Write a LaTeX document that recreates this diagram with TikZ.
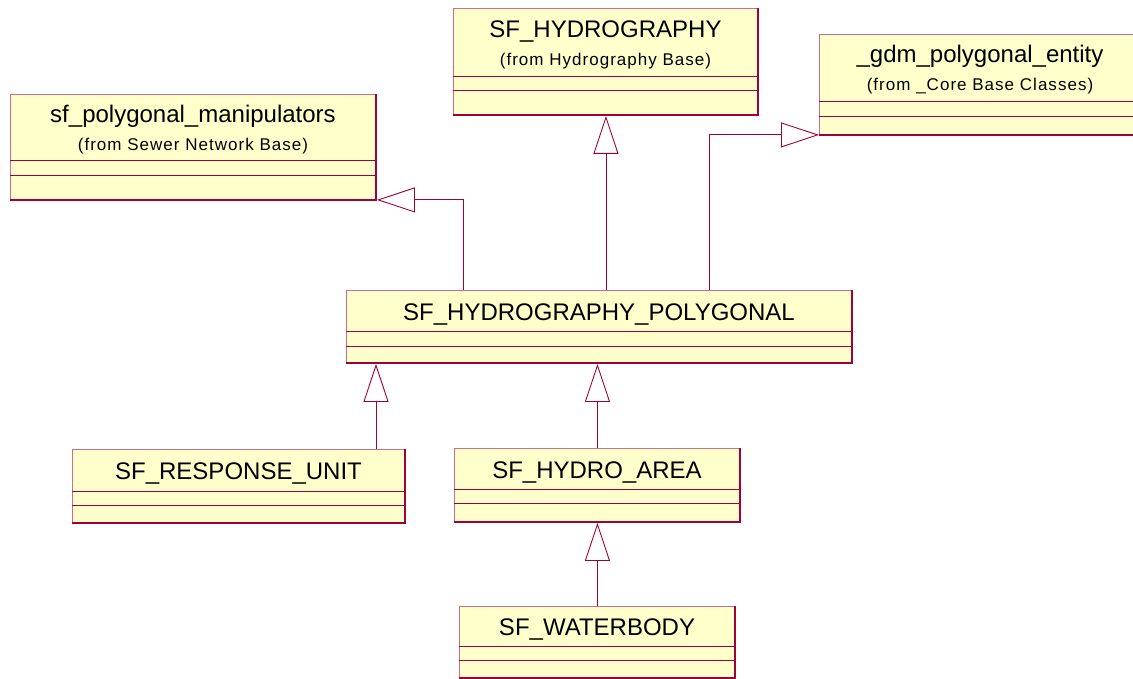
\documentclass[tikz,border=0pt]{standalone}
\usepackage{fontspec}
\setmainfont{Liberation Sans}
\newfontfamily\subfont[LetterSpace=6]{Liberation Sans}
\usetikzlibrary{arrows.meta}
\definecolor{umlfill}{RGB}{255,255,204}
\definecolor{umlline}{RGB}{160,0,60}
\definecolor{umledge}{RGB}{205,110,140}

\tikzset{
  cls/.style={draw=umledge, fill=umlfill, line width=0.9pt, inner sep=0pt, anchor=north west},
  shade/.style={draw=umlline, line width=1.6pt},
  sepline/.style={draw=umlline, line width=0.8pt},
  ttl/.style={font=\fontsize{24}{28}\selectfont, inner sep=0pt, anchor=base},
  sub/.style={font=\subfont\fontsize{17}{20}\selectfont, inner sep=0pt, anchor=base},
  gen/.style={draw=umlline, line width=0.9pt,
    -{Triangle[open, length=38pt, width=25pt]}},
}

% class box: name, left, top, right, bottom, first and second compartment line
\newcommand\classbox[7]{%
  \node[cls, minimum width={#4-#2}, minimum height={#5-#3}] (#1) at (#2,#3) {};
  \draw[shade] (#4,#3) -- (#4,#5) -- (#2,#5);
  \draw[sepline] (#2,#6) -- (#4,#6) (#2,#7) -- (#4,#7);
}

\begin{document}
\begin{tikzpicture}[x=1pt, y=-1pt]
  \useasboundingbox (0,0) rectangle (1133,679);
  \clip (0,0) rectangle (1133,679);

  % classes
  \classbox{manip}{10}{94}{376}{200}{160}{175}
  \node[ttl] (manip-t) at (193,123) {sf\_polygonal\_manipulators};
  \node[sub] (manip-s) at (193,151) {(from Sewer Network Base)};

  \classbox{hydro}{453}{8}{758}{115}{76}{90}
  \node[ttl] (hydro-t) at (605.5,38) {SF\_HYDROGRAPHY};
  \node[sub] (hydro-s) at (605.5,66) {(from Hydrography Base)};

  \classbox{gdm}{819}{34}{1141}{135}{101}{116}
  \node[ttl] (gdm-t) at (980,63) {\_gdm\_polygonal\_entity};
  \node[sub] (gdm-s) at (980,91) {(from \_Core Base Classes)};

  \classbox{poly}{346}{290}{852}{363}{331}{346}
  \node[ttl] (poly-t) at (599,320) {SF\_HYDROGRAPHY\_POLYGONAL};

  \classbox{resp}{72}{449}{405}{523}{491}{505}
  \node[ttl] (resp-t) at (238.5,479) {SF\_RESPONSE\_UNIT};

  \classbox{area}{454}{448}{740}{522}{489}{503}
  \node[ttl] (area-t) at (597,478) {SF\_HYDRO\_AREA};

  \classbox{water}{459}{606}{735}{678}{646}{660}
  \node[ttl] (water-t) at (597,635) {SF\_WATERBODY};

  % generalizations
  \coordinate (p1) at ([xshift=117pt]poly.north west);
  \coordinate (p2) at ([xshift=363pt]poly.north west);
  \coordinate (r1) at ([xshift=304pt]resp.north west);

  \draw[gen] (p1) |- ([yshift=1pt]manip.south east);
  \draw[gen] (poly.north -| hydro.south) -- (hydro.south);
  \draw[gen] (p2) |- ([yshift=1pt]gdm.south west);
  \draw[gen] (r1) -- (r1 |- poly.south);
  \draw[gen] (area.north) -- (area.north |- poly.south);
  \draw[gen] (water.north) -- (area.south);
\end{tikzpicture}
\end{document}
